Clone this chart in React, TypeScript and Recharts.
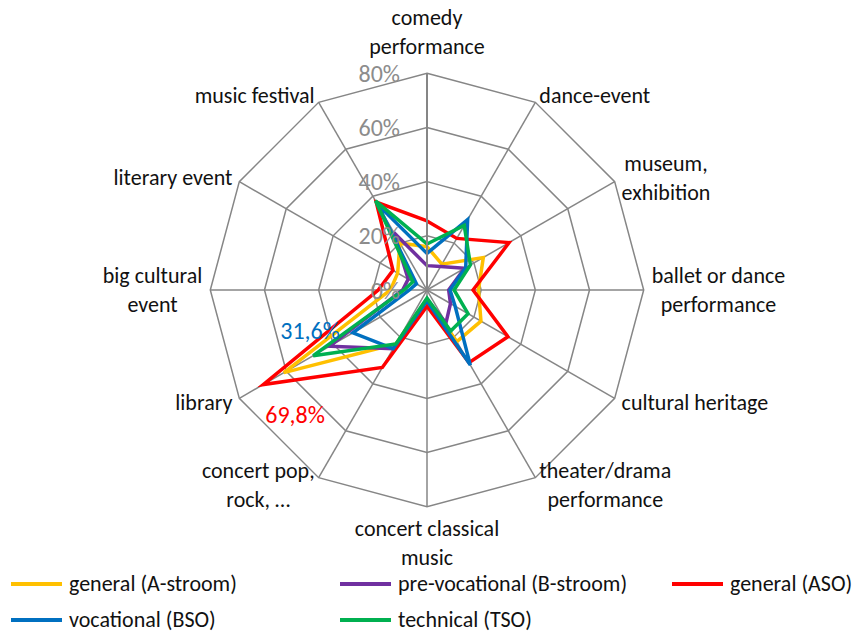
import React from 'react';
import {
  RadarChart,
  Radar,
  PolarGrid,
  PolarAngleAxis,
  PolarRadiusAxis,
  LabelList,
} from 'recharts';

const categories = [
  'comedy performance',
  'dance-event',
  'museum, exhibition',
  'ballet or dance performance',
  'cultural heritage',
  'theater/drama performance',
  'concert classical music',
  'concert pop, rock, …',
  'library',
  'big cultural event',
  'literary event',
  'music festival',
];

const categoryLines = [
  ['comedy', 'performance'],
  ['dance-event'],
  ['museum,', 'exhibition'],
  ['ballet or dance', 'performance'],
  ['cultural heritage'],
  ['theater/drama', 'performance'],
  ['concert classical', 'music'],
  ['concert pop,', 'rock, …'],
  ['library'],
  ['big cultural', 'event'],
  ['literary event'],
  ['music festival'],
];

const generalA = [16, 11, 24, 19, 23, 22, 3.5, 23, 61, 13.5, 12.5, 20];
const preVocB = [9, 10, 16, 8, 10, 14, 3.5, 25, 41.5, 9, 8, 24.5];
const generalASO = [25.5, 22, 35, 17, 34.5, 31, 6, 33, 69.8, 18, 14.5, 37.5];
const vocationalBSO = [13.5, 30, 16.5, 8.5, 12, 32, 4, 25, 31.6, 6.5, 4.5, 36.5];
const technicalTSO = [17, 27.5, 18.5, 10, 17.5, 17.5, 3, 23, 48.5, 8.5, 6, 38];

const radiusTicks = [0, 20, 40, 60, 80];

const series = [
  { key: 'A', name: 'general (A-stroom)', color: '#FFC000', values: generalA },
  { key: 'B', name: 'pre-vocational (B-stroom)', color: '#7030A0', values: preVocB },
  { key: 'ASO', name: 'general (ASO)', color: '#FF0000', values: generalASO },
  { key: 'BSO', name: 'vocational (BSO)', color: '#0070C0', values: vocationalBSO },
  { key: 'TSO', name: 'technical (TSO)', color: '#00B050', values: technicalTSO },
];

const data = categories.map((c, i) => {
  const row: any = { category: c };
  series.forEach((s) => (row[s.key] = s.values[i]));
  return row;
});

const FONT = 'Calibri, Carlito, Lato, sans-serif';
const LABEL_SIZE = 22;
const LINE_H = 29;

let ctx: CanvasRenderingContext2D | null = null;
const textWidth = (t: string) => {
  if (!ctx) ctx = document.createElement('canvas').getContext('2d');
  if (!ctx) return t.length * LABEL_SIZE * 0.5;
  ctx.font = `${LABEL_SIZE}px ${FONT}`;
  return ctx.measureText(t).width;
};

const AngleTick = (props: any) => {
  const { x, y, payload, index } = props;
  const lines = categoryLines[index] || [String(payload.value)];
  const rad = (payload.coordinate * Math.PI) / 180;
  const cos = Math.cos(rad);
  const sin = Math.sin(rad);
  const maxW = Math.max(...lines.map(textWidth));
  let cx = x;
  if (Math.abs(cos) > 0.01) cx = cos > 0 ? x + maxW / 2 : x - maxW / 2;
  let firstY: number;
  if (sin > 0.99) firstY = y - 19 - (lines.length - 1) * LINE_H;
  else if (sin < -0.99) firstY = y + 14;
  else firstY = y - ((lines.length - 1) * LINE_H) / 2;
  return (
    <g>
      {lines.map((l, i) => (
        <text
          key={i}
          x={cx}
          y={firstY + i * LINE_H}
          textAnchor="middle"
          dominantBaseline="central"
          fontSize={LABEL_SIZE}
          fontFamily={FONT}
          fill="#111"
        >
          {l}
        </text>
      ))}
    </g>
  );
};

const RadiusTick = (props: any) => {
  const { x, y, payload } = props;
  return (
    <text
      x={x - 27}
      y={y}
      textAnchor="end"
      dominantBaseline="central"
      fontSize={24}
      fontFamily={FONT}
      fill="#8C8C8C"
    >
      {payload.value}%
    </text>
  );
};

const fmt = (v: number) => `${String(v).replace('.', ',')}%`;

const bsoLabel = (p: any) =>
  p.index === 8 ? (
    <text
      x={p.x - 13}
      y={p.y - 2}
      textAnchor="end"
      dominantBaseline="central"
      fontSize={24}
      fontFamily={FONT}
      fill="#0070C0"
    >
      {fmt(p.value)}
    </text>
  ) : null;

const asoLabel = (p: any) =>
  p.index === 8 ? (
    <text
      x={p.x + 2}
      y={p.y + 30}
      textAnchor="start"
      dominantBaseline="central"
      fontSize={24}
      fontFamily={FONT}
      fill="#FF0000"
    >
      {fmt(p.value)}
    </text>
  ) : null;

const legendPos = [
  { left: 11, top: 584 },
  { left: 340, top: 584 },
  { left: 672, top: 584 },
  { left: 11, top: 620 },
  { left: 340, top: 620 },
];

export default function App() {
  return (
    <div
      style={{
        position: 'absolute',
        left: 0,
        top: 0,
        width: 863,
        height: 634,
        background: '#fff',
        fontFamily: FONT,
      }}
    >
      <RadarChart
        width={863}
        height={634}
        data={data}
        cx={427}
        cy={290}
        outerRadius={216.7}
        margin={{ top: 0, right: 0, bottom: 0, left: 0 }}
      >
        <PolarGrid gridType="polygon" stroke="#868686" strokeWidth={1.5} />
        <PolarAngleAxis
          dataKey="category"
          tick={<AngleTick />}
          tickLine={false}
          axisLine={false}
        />
        <PolarRadiusAxis
          angle={90}
          domain={[0, 80]}
          tickCount={radiusTicks.length}
          ticks={radiusTicks as any}
          tick={<RadiusTick />}
          axisLine={{ stroke: '#868686', strokeWidth: 2 }}
          tickLine={false}
        />
        {series.map((s) => (
          <Radar
            key={s.key}
            name={s.name}
            dataKey={s.key}
            stroke={s.color}
            strokeWidth={3.5}
            fill="none"
            fillOpacity={0}
            dot={false}
            isAnimationActive={false}
          >
            {s.key === 'BSO' && <LabelList dataKey="BSO" content={bsoLabel} />}
            {s.key === 'ASO' && <LabelList dataKey="ASO" content={asoLabel} />}
          </Radar>
        ))}
      </RadarChart>
      {series.map((s, i) => (
        <div
          key={s.key}
          style={{
            position: 'absolute',
            left: legendPos[i].left,
            top: legendPos[i].top,
            transform: 'translateY(-50%)',
            display: 'flex',
            alignItems: 'center',
            fontSize: LABEL_SIZE,
            lineHeight: '24px',
            color: '#111',
            whiteSpace: 'nowrap',
          }}
        >
          <div style={{ width: 51, height: 4, background: s.color, marginRight: 7 }} />
          <span>{s.name}</span>
        </div>
      ))}
    </div>
  );
}
